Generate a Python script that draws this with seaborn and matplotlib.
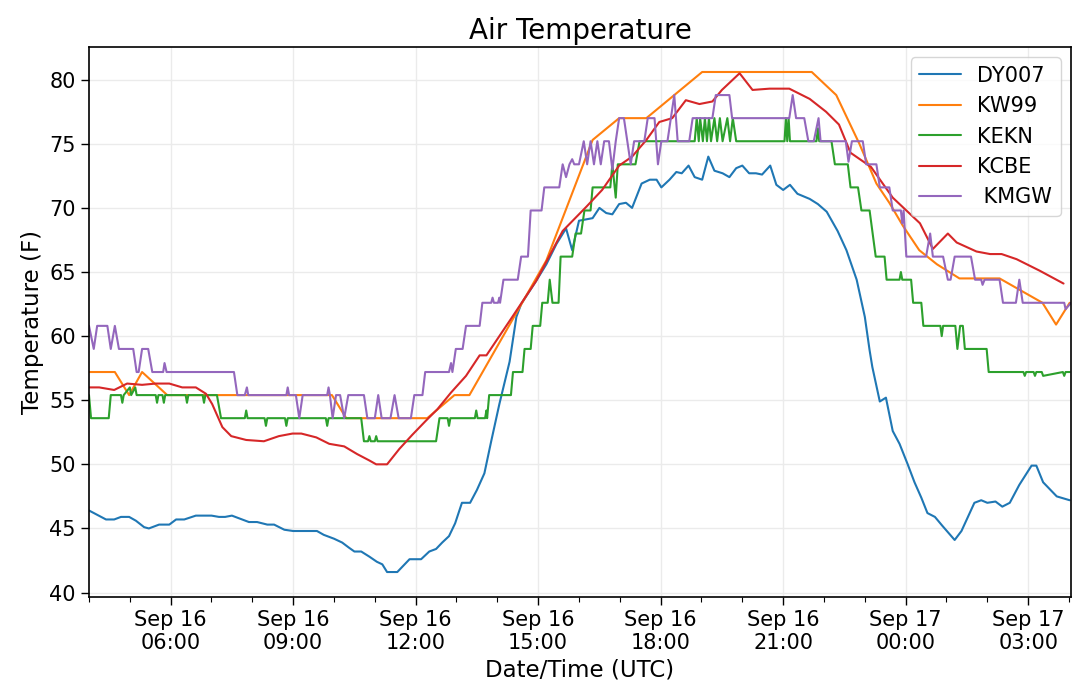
import pandas as pd
import matplotlib
matplotlib.use("Agg")
import matplotlib.pyplot as plt
import matplotlib.dates as mdates
import seaborn as sns

# station names (note the leading space on KMGW, as in the original legend)
stations = ["DY007", "KW99", "KEKN", "KCBE", " KMGW"]
colors = ["#1f77b4", "#ff7f0e", "#2ca02c", "#d62728", "#9467bd"]

# times are "day HH:MM" in Sep, UTC
dy007_t = ["16 04:00", "16 04:25", "16 04:37", "16 04:47", "16 04:59", "16 05:09", "16 05:21", "16 05:28",
           "16 05:43", "16 05:58", "16 06:08", "16 06:20", "16 06:37", "16 07:00", "16 07:11", "16 07:20",
           "16 07:30", "16 07:55", "16 08:07", "16 08:22", "16 08:32", "16 08:47", "16 09:00", "16 09:35",
           "16 09:45", "16 10:00", "16 10:12", "16 10:22", "16 10:30", "16 10:40", "16 10:52", "16 11:03",
           "16 11:11", "16 11:18", "16 11:33", "16 11:51", "16 12:08", "16 12:20", "16 12:30", "16 12:39",
           "16 12:49", "16 12:58", "16 13:08", "16 13:20", "16 13:30", "16 13:41", "16 13:51", "16 14:03",
           "16 14:18", "16 14:28", "16 14:35", "16 14:57", "16 15:12", "16 15:27", "16 15:41", "16 15:50",
           "16 16:00", "16 16:20", "16 16:30", "16 16:40", "16 16:49", "16 16:59", "16 17:09", "16 17:18",
           "16 17:32", "16 17:44", "16 17:54", "16 18:01", "16 18:13", "16 18:23", "16 18:31", "16 18:41",
           "16 18:50", "16 19:01", "16 19:10", "16 19:19", "16 19:31", "16 19:41", "16 19:51", "16 20:00",
           "16 20:10", "16 20:20", "16 20:29", "16 20:41", "16 20:50", "16 21:00", "16 21:10", "16 21:21",
           "16 21:39", "16 21:51", "16 22:04", "16 22:20", "16 22:33", "16 22:48", "16 23:00", "16 23:07",
           "16 23:11", "16 23:22", "16 23:31", "16 23:41", "16 23:51", "17 00:03", "17 00:13", "17 00:23",
           "17 00:32", "17 00:43", "17 00:54", "17 01:12", "17 01:22", "17 01:41", "17 01:51", "17 02:00",
           "17 02:12", "17 02:22", "17 02:33", "17 02:47", "17 03:05", "17 03:12", "17 03:22", "17 03:42",
           "17 04:01"]
dy007_v = [46.4, 45.7, 45.7, 45.9, 45.9, 45.6, 45.1, 45.0,
           45.3, 45.3, 45.7, 45.7, 46.0, 46.0, 45.9, 45.9,
           46.0, 45.5, 45.5, 45.3, 45.3, 44.9, 44.8, 44.8,
           44.5, 44.2, 43.9, 43.5, 43.2, 43.2, 42.8, 42.4,
           42.2, 41.6, 41.6, 42.6, 42.6, 43.2, 43.4, 43.9,
           44.4, 45.4, 47.0, 47.0, 48.0, 49.3, 51.8, 54.7,
           58.0, 61.5, 62.5, 64.3, 65.6, 67.2, 68.4, 66.7,
           69.0, 69.2, 70.0, 69.6, 69.5, 70.3, 70.4, 70.0,
           71.9, 72.2, 72.2, 71.6, 72.2, 72.8, 72.7, 73.3,
           72.4, 72.2, 74.0, 72.9, 72.7, 72.4, 73.1, 73.3,
           72.7, 72.7, 72.6, 73.3, 71.8, 71.4, 71.8, 71.1,
           70.7, 70.3, 69.7, 68.2, 66.7, 64.4, 61.5, 58.9,
           57.6, 54.9, 55.2, 52.6, 51.6, 50.0, 48.6, 47.4,
           46.2, 45.9, 45.2, 44.1, 44.8, 47.0, 47.2, 47.0,
           47.1, 46.7, 47.0, 48.4, 49.9, 49.9, 48.6, 47.5,
           47.2]

kw99_t = ["16 04:00", "16 04:38", "16 04:59", "16 05:18", "16 05:55", "16 09:57", "16 10:18", "16 12:17",
          "16 12:57", "16 13:19", "16 15:12", "16 15:41", "16 16:20", "16 16:59", "16 17:39", "16 19:01",
          "16 21:42", "16 22:18", "16 22:52", "16 23:17", "16 23:36", "16 23:56", "17 00:20", "17 00:46",
          "17 01:19", "17 02:18", "17 03:21", "17 03:41", "17 04:01"]
kw99_v = [57.2, 57.2, 55.4, 57.2, 55.4, 55.4, 53.6, 53.6,
          55.4, 55.4, 65.9, 69.9, 75.3, 77.0, 77.0, 80.6,
          80.6, 78.8, 75.0, 71.9, 70.4, 68.6, 66.7, 65.6,
          64.5, 64.5, 62.6, 60.9, 62.6]

kekn_t = ["16 04:00", "16 04:03", "16 04:29", "16 04:32", "16 04:47", "16 04:49", "16 04:51", "16 05:00",
          "16 05:02", "16 05:08", "16 05:10", "16 05:38", "16 05:40", "16 05:42", "16 05:48", "16 05:50",
          "16 05:52", "16 06:22", "16 06:24", "16 06:26", "16 06:47", "16 06:49", "16 06:51", "16 07:08",
          "16 07:14", "16 07:49", "16 07:51", "16 07:53", "16 08:18", "16 08:20", "16 08:22", "16 08:48",
          "16 08:50", "16 08:52", "16 09:48", "16 09:50", "16 09:52", "16 10:40", "16 10:44", "16 10:50",
          "16 10:52", "16 10:54", "16 11:00", "16 11:02", "16 11:04", "16 12:30", "16 12:35", "16 12:47",
          "16 12:49", "16 12:51", "16 13:27", "16 13:29", "16 13:31", "16 13:42", "16 13:44", "16 13:45",
          "16 13:48", "16 14:20", "16 14:23", "16 14:37", "16 14:40", "16 14:49", "16 14:52", "16 15:03",
          "16 15:06", "16 15:14", "16 15:17", "16 15:21", "16 15:30", "16 15:33", "16 15:50", "16 15:55",
          "16 16:03", "16 16:08", "16 16:17", "16 16:20", "16 16:46", "16 16:49", "16 16:54", "16 16:57",
          "16 17:23", "16 17:29", "16 18:50", "16 18:53", "16 18:56", "16 18:58", "16 19:02", "16 19:05",
          "16 19:08", "16 19:11", "16 19:14", "16 19:19", "16 19:23", "16 19:27", "16 19:31", "16 19:38",
          "16 19:42", "16 19:46", "16 19:51", "16 21:02", "16 21:04", "16 21:06", "16 21:08", "16 21:10",
          "16 21:49", "16 21:51", "16 21:53", "16 22:11", "16 22:16", "16 22:35", "16 22:39", "16 22:50",
          "16 22:55", "16 23:07", "16 23:16", "16 23:29", "16 23:32", "16 23:51", "16 23:53", "16 23:55",
          "17 00:08", "17 00:11", "17 00:23", "17 00:26", "17 00:51", "17 00:53", "17 00:55", "17 01:13",
          "17 01:16", "17 01:20", "17 01:24", "17 01:27", "17 01:59", "17 02:02", "17 02:53", "17 02:55",
          "17 02:57", "17 03:08", "17 03:10", "17 03:12", "17 03:20", "17 03:22", "17 03:51", "17 03:53",
          "17 03:55", "17 04:01"]
kekn_v = [55.4, 53.6, 53.6, 55.4, 55.4, 54.8, 55.4, 56.0,
          55.4, 56.0, 55.4, 55.4, 54.8, 55.4, 55.4, 54.8,
          55.4, 55.4, 54.8, 55.4, 55.4, 54.8, 55.4, 55.4,
          53.6, 53.6, 54.2, 53.6, 53.6, 53.0, 53.6, 53.6,
          53.0, 53.6, 53.6, 53.0, 53.6, 53.6, 51.8, 51.8,
          52.2, 51.8, 51.8, 52.2, 51.8, 51.8, 53.6, 53.6,
          53.0, 53.6, 53.6, 54.2, 53.6, 53.6, 54.2, 53.6,
          55.4, 55.4, 57.2, 57.2, 59.0, 59.0, 60.8, 60.8,
          62.6, 62.6, 64.4, 62.6, 62.6, 66.2, 66.2, 68.0,
          68.0, 69.8, 69.8, 71.6, 71.6, 73.4, 70.8, 73.4,
          73.4, 75.2, 75.2, 77.0, 75.2, 77.0, 75.2, 77.0,
          75.2, 77.0, 75.2, 77.0, 75.2, 77.0, 75.2, 77.0,
          75.2, 77.0, 75.2, 75.2, 77.0, 75.2, 77.0, 75.2,
          75.2, 76.2, 75.2, 75.2, 73.4, 73.4, 71.6, 71.6,
          69.8, 69.8, 66.2, 66.2, 64.4, 64.4, 65.0, 64.4,
          64.4, 62.6, 62.6, 60.8, 60.8, 60.0, 60.8, 60.8,
          59.0, 60.8, 60.8, 59.0, 59.0, 57.2, 57.2, 56.9,
          57.2, 57.2, 56.9, 57.2, 57.2, 56.9, 57.2, 56.9,
          57.2, 57.2]

kcbe_t = ["16 04:00", "16 04:15", "16 04:37", "16 04:56", "16 05:18", "16 05:38", "16 05:58", "16 06:17",
          "16 06:37", "16 06:52", "16 07:01", "16 07:16", "16 07:29", "16 07:51", "16 08:17", "16 08:39",
          "16 08:59", "16 09:12", "16 09:34", "16 09:53", "16 10:15", "16 10:34", "16 10:52", "16 11:02",
          "16 11:18", "16 11:36", "16 11:55", "16 12:15", "16 12:32", "16 12:52", "16 13:14", "16 13:34",
          "16 13:44", "16 14:03", "16 14:22", "16 14:57", "16 15:36", "16 16:11", "16 16:34", "16 16:59",
          "16 17:18", "16 17:39", "16 17:58", "16 18:17", "16 18:37", "16 18:57", "16 19:16", "16 19:30",
          "16 19:56", "16 20:15", "16 20:40", "16 21:09", "16 21:39", "16 22:03", "16 22:22", "16 22:39",
          "16 23:09", "16 23:41", "17 00:21", "17 00:40", "17 01:02", "17 01:15", "17 01:44", "17 02:04",
          "17 02:21", "17 02:43", "17 03:17", "17 03:52"]
kcbe_v = [56.0, 56.0, 55.8, 56.3, 56.2, 56.3, 56.3, 56.0,
          56.0, 55.5, 54.7, 52.9, 52.2, 51.9, 51.8, 52.2,
          52.4, 52.4, 52.1, 51.6, 51.4, 50.8, 50.3, 50.0,
          50.0, 51.2, 52.3, 53.4, 54.3, 55.6, 56.9, 58.5,
          58.5, 60.0, 61.5, 64.3, 68.2, 70.1, 71.4, 73.3,
          74.0, 75.3, 76.7, 77.0, 78.4, 78.1, 78.3, 79.2,
          80.5, 79.2, 79.3, 79.3, 78.5, 77.5, 76.5, 74.3,
          73.2, 70.8, 68.8, 66.8, 68.0, 67.3, 66.6, 66.4,
          66.4, 66.0, 65.1, 64.1]

kmgw_t = ["16 04:00", "16 04:07", "16 04:12", "16 04:27", "16 04:32", "16 04:38", "16 04:44", "16 05:05",
          "16 05:10", "16 05:13", "16 05:18", "16 05:27", "16 05:33", "16 05:49", "16 05:51", "16 05:54",
          "16 07:33", "16 07:38", "16 07:49", "16 07:52", "16 07:54", "16 08:50", "16 08:52", "16 08:54",
          "16 09:04", "16 09:09", "16 09:14", "16 09:50", "16 09:52", "16 09:54", "16 09:58", "16 10:03",
          "16 10:09", "16 10:15", "16 10:21", "16 10:44", "16 10:49", "16 11:00", "16 11:05", "16 11:10",
          "16 11:23", "16 11:29", "16 11:35", "16 11:53", "16 11:58", "16 12:10", "16 12:14", "16 12:49",
          "16 12:52", "16 12:54", "16 12:59", "16 13:09", "16 13:14", "16 13:34", "16 13:38", "16 13:51",
          "16 13:53", "16 13:55", "16 14:01", "16 14:03", "16 14:04", "16 14:09", "16 14:30", "16 14:35",
          "16 14:45", "16 14:47", "16 14:49", "16 15:05", "16 15:09", "16 15:31", "16 15:36", "16 15:41",
          "16 15:46", "16 15:50", "16 15:53", "16 16:00", "16 16:07", "16 16:12", "16 16:17", "16 16:22",
          "16 16:27", "16 16:32", "16 16:37", "16 16:44", "16 16:49", "16 16:54", "16 16:59", "16 17:06",
          "16 17:11", "16 17:16", "16 17:21", "16 17:36", "16 17:41", "16 17:51", "16 17:56", "16 18:01",
          "16 18:10", "16 18:15", "16 18:20", "16 18:25", "16 18:42", "16 18:47", "16 19:16", "16 19:21",
          "16 19:41", "16 19:45", "16 21:09", "16 21:14", "16 21:19", "16 21:31", "16 21:37", "16 21:45",
          "16 21:52", "16 21:55", "16 22:32", "16 22:36", "16 22:41", "16 22:57", "16 23:02", "16 23:17",
          "16 23:22", "16 23:36", "16 23:41", "16 23:53", "16 23:55", "16 23:57", "17 00:01", "17 00:30",
          "17 00:36", "17 00:40", "17 00:55", "17 01:02", "17 01:06", "17 01:12", "17 01:36", "17 01:42",
          "17 01:51", "17 01:53", "17 01:56", "17 02:18", "17 02:23", "17 02:42", "17 02:47", "17 02:52",
          "17 03:53", "17 03:55", "17 04:03"]
kmgw_v = [60.8, 59.0, 60.8, 60.8, 59.0, 60.8, 59.0, 59.0,
          57.2, 57.2, 59.0, 59.0, 57.2, 57.2, 57.9, 57.2,
          57.2, 55.4, 55.4, 56.0, 55.4, 55.4, 56.0, 55.4,
          55.4, 53.6, 55.4, 55.4, 56.0, 55.4, 53.6, 55.4,
          55.4, 53.6, 55.4, 55.4, 53.6, 53.6, 55.4, 53.6,
          53.6, 55.4, 53.6, 53.6, 55.4, 55.4, 57.2, 57.2,
          57.9, 57.2, 59.0, 59.0, 60.8, 60.8, 62.6, 62.6,
          63.0, 62.6, 62.6, 63.0, 62.6, 64.4, 64.4, 66.2,
          66.2, 68.0, 69.8, 69.8, 71.6, 71.6, 73.4, 72.4,
          73.4, 73.8, 73.4, 73.4, 75.2, 73.4, 75.2, 73.4,
          75.2, 73.4, 75.2, 75.2, 73.0, 75.2, 77.0, 77.0,
          75.2, 73.4, 75.2, 75.2, 77.0, 77.0, 73.4, 75.2,
          75.2, 77.0, 78.8, 75.2, 75.2, 77.0, 77.0, 78.8,
          78.8, 77.0, 77.0, 78.8, 77.0, 77.0, 75.2, 75.2,
          77.0, 75.2, 75.2, 73.6, 75.2, 75.2, 73.4, 73.4,
          71.6, 71.6, 69.8, 69.8, 68.8, 69.8, 66.2, 66.2,
          68.0, 66.2, 66.2, 64.4, 64.4, 66.2, 66.2, 64.4,
          64.4, 64.0, 64.4, 64.4, 62.6, 62.6, 64.4, 62.6,
          62.6, 62.1, 62.6]


def to_time(labels):
    return pd.to_datetime(["2019-09-" + s for s in labels], format="%Y-%m-%d %H:%M")


series = [(stations[0], dy007_t, dy007_v), (stations[1], kw99_t, kw99_v),
          (stations[2], kekn_t, kekn_v), (stations[3], kcbe_t, kcbe_v),
          (stations[4], kmgw_t, kmgw_v)]
df = pd.concat([pd.DataFrame({"time": to_time(t), "temp": v, "station": name})
                for name, t, v in series], ignore_index=True)

sns.set_style("whitegrid", {"axes.edgecolor": "black", "grid.color": "#ebebeb",
                            "xtick.bottom": True, "ytick.left": True,
                            "text.color": "black", "axes.labelcolor": "black",
                            "xtick.color": "black", "ytick.color": "black"})
plt.rcParams["font.family"] = ["DejaVu Sans"]

fig = plt.figure(figsize=(10.8, 6.8), dpi=100)
ax = fig.add_axes([0.0824, 0.122, 0.9093, 0.8089])

sns.lineplot(data=df, x="time", y="temp", hue="station", hue_order=stations,
             palette=colors, estimator=None, sort=True, linewidth=1.5, ax=ax)

ax.set_xlim(df["time"].min(), df["time"].max())
ax.xaxis.set_major_locator(mdates.HourLocator(byhour=range(0, 24, 3)))
ax.xaxis.set_minor_locator(mdates.HourLocator())
ax.xaxis.set_major_formatter(mdates.DateFormatter("%b %d\n%H:%M"))
ax.tick_params(which="major", length=6, width=1, labelsize=15)
ax.tick_params(axis="x", which="minor", length=3.5, width=0.8)
ax.grid(True, which="major", linewidth=1)
ax.grid(False, which="minor")
for sp in ax.spines.values():
    sp.set_linewidth(1.2)
    sp.set_color("black")

handles, labels = ax.get_legend_handles_labels()
ax.legend(handles, labels, loc="upper right", fontsize=15)

ax.set_title("Air Temperature", fontsize=20)
ax.set_xlabel("Date/Time (UTC)", fontsize=16.5)
ax.set_ylabel("Temperature (F)", fontsize=16.5)

fig.savefig("out.png", dpi=100)
